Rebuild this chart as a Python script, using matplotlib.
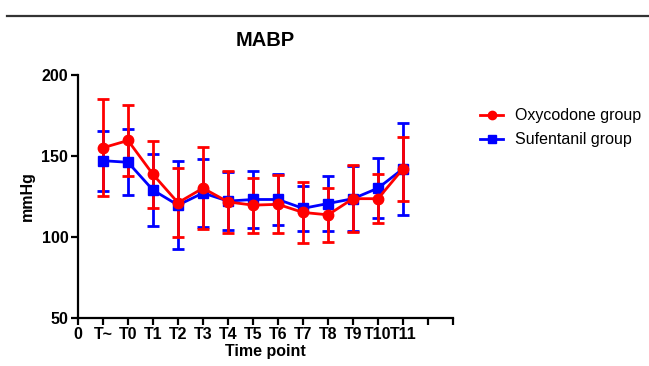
import matplotlib
matplotlib.use("Agg")
import matplotlib.pyplot as plt
from matplotlib.lines import Line2D

plt.rcParams.update({"font.family": "Liberation Sans", "font.size": 11})

# data (mean +/- SD, mmHg)
labels = ["0", "T~", "T0", "T1", "T2", "T3", "T4", "T5", "T6", "T7", "T8", "T9", "T10", "T11"]
x = list(range(1, 14))
oxy_mean = [155, 159.5, 138.5, 121, 130, 121.5, 119.5, 120, 115, 113.5, 123.5, 123.5, 142]
oxy_sd = [30, 21.7, 20.8, 21.5, 25.5, 19, 17, 18, 19, 16.5, 20.7, 15, 19.7]
suf_mean = [147, 146, 128.8, 119.5, 127, 122, 123, 123, 117.5, 120.5, 123.5, 130, 142]
suf_sd = [18.5, 20.5, 22.2, 27, 21, 18, 17.5, 16, 14, 17, 20, 18.7, 28.5]

fig = plt.figure(figsize=(6.49, 3.66), dpi=100)
ax = fig.add_axes([78/649, 1-317.5/366, 375/649, 242.5/366])

ax.errorbar(x, suf_mean, yerr=suf_sd, color="#0000ff", marker="s", ms=6.5, lw=2,
            elinewidth=2, capsize=4.5, capthick=2)
ax.errorbar(x, oxy_mean, yerr=oxy_sd, color="#ff0000", marker="o", ms=7.5, lw=2,
            elinewidth=2, capsize=4.5, capthick=2)

ax.set_xlim(0, 15); ax.set_ylim(50, 200)
ax.set_xticks(range(16))
ax.set_xticklabels(labels + ["", ""], fontweight="bold", fontsize=11.5)
ax.set_yticks([50, 100, 150, 200])
ax.set_yticklabels(["50", "100", "150", "200"], fontweight="bold", fontsize=11.5)
for s in ["top", "right"]: ax.spines[s].set_visible(False)
for s in ["left", "bottom"]: ax.spines[s].set_linewidth(1.6)
ax.tick_params(width=1.6, length=5, pad=2)
ax.set_xlabel("Time point", fontweight="bold", fontsize=11.5, labelpad=1)
ax.set_ylabel("mmHg", fontweight="bold", fontsize=11.5, labelpad=5)
ax.set_title("MABP", fontweight="bold", fontsize=14.5, pad=21)

handles = [Line2D([], [], color="#ff0000", marker="o", ms=6, lw=2),
           Line2D([], [], color="#0000ff", marker="s", ms=6, lw=2)]
fig.legend(handles, ["Oxycodone group", "Sufentanil group"], loc="upper left",
           bbox_to_anchor=(474/649, 1-102/366), frameon=False, fontsize=11.5,
           handlelength=1.4, handletextpad=0.75, borderaxespad=0, labelspacing=0.55)

fig.add_artist(Line2D([7/649, 1], [1-16/366, 1-16/366], color="#333333", lw=1.6))
fig.savefig("out.png", dpi=100)
